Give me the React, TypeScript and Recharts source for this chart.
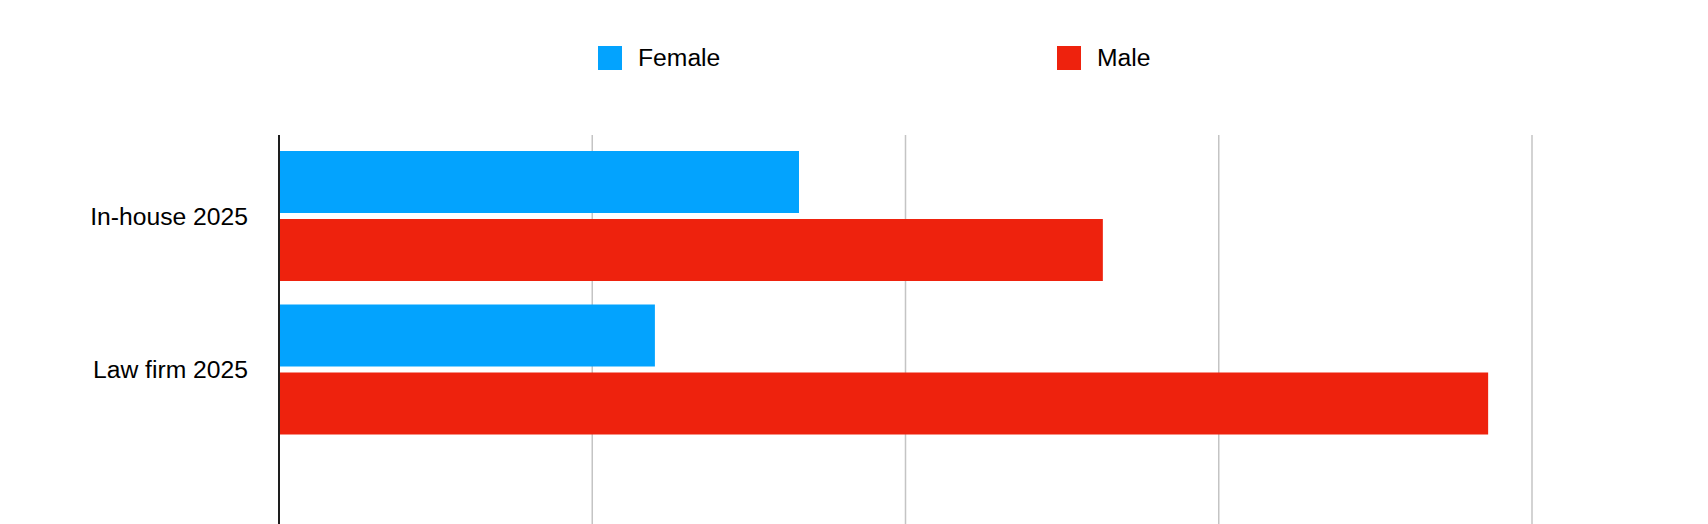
import { BarChart, Bar, XAxis, YAxis, CartesianGrid } from "recharts";

const categories = ["In-house 2025", "Law firm 2025"];
const femaleValues = [16.6, 12.0];
const maleValues = [26.3, 38.6];
const xTicks = [0, 10, 20, 30, 40];

const FEMALE = "#03A3FE";
const MALE = "#EE220D";

const data = categories.map((name, i) => ({
  name,
  female: femaleValues[i],
  male: maleValues[i],
}));

const legendItems = [
  { label: "Female", color: FEMALE },
  { label: "Male", color: MALE },
];

// legend sits above the plot, outside the chart's own layout
function ChartLegend() {
  return (
    <div style={{ position: "absolute", left: 598, top: 46, display: "flex" }}>
      {legendItems.map((it) => (
        <div key={it.label} style={{ width: 459, height: 24, display: "flex", alignItems: "center" }}>
          <span style={{ display: "inline-block", width: 24, height: 24, background: it.color }} />
          <span style={{ marginLeft: 16, fontSize: 24.7, lineHeight: "24px", color: "#000" }}>{it.label}</span>
        </div>
      ))}
    </div>
  );
}

export default function App() {
  return (
    <div
      style={{
        position: "absolute",
        left: 0,
        top: 0,
        width: 1708,
        height: 524,
        fontFamily: "'Liberation Sans', Arial, sans-serif",
        background: "#fff",
      }}
    >
      <ChartLegend />
      <BarChart
        width={1708}
        height={524}
        data={data}
        layout="vertical"
        margin={{ top: 135, right: 176, left: 19, bottom: 0 }}
        barCategoryGap={12}
        barGap={6}
      >
        <CartesianGrid horizontal={false} stroke="#c4c4c4" strokeWidth={1.5} />
        <XAxis type="number" domain={[0, 40]} ticks={xTicks} hide />
        <YAxis
          type="category"
          dataKey="name"
          width={260}
          axisLine={{ stroke: "#1e1e1e", strokeWidth: 2 }}
          tickLine={false}
          tickSize={0}
          tickMargin={31}
          tick={{ fontSize: 24.7, fill: "#000" }}
          padding={{ top: 4, bottom: 78 }}
        />
        <Bar dataKey="female" name="Female" fill={FEMALE} isAnimationActive={false} />
        <Bar dataKey="male" name="Male" fill={MALE} isAnimationActive={false} />
      </BarChart>
    </div>
  );
}
